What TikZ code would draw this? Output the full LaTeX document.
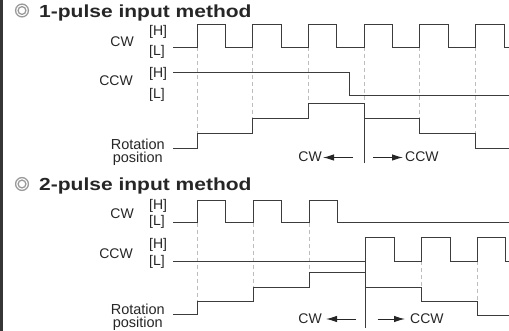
\documentclass[tikz,border=0pt]{standalone}
\usepackage{fontspec}
\setmainfont{Liberation Sans}
\usetikzlibrary{arrows.meta}
\definecolor{wave}{HTML}{3C3C3C}
\definecolor{guide}{HTML}{BDBDBD}
\definecolor{ink}{HTML}{262626}
\definecolor{sidebar}{HTML}{363636}
\definecolor{markgray}{HTML}{9A9A9A}
\begin{document}
\begin{tikzpicture}[x=1pt,y=-1pt,
  sig/.style={draw=wave,line width=0.9pt,line join=miter},
  guideline/.style={draw=guide,line width=0.8pt,dash pattern=on 4pt off 3pt},
  divider/.style={draw=wave,line width=0.9pt},
  dirarrow/.style={draw=ink,line width=1pt,-{Latex[length=11pt,width=6.5pt]}},
  lbl/.style={font=\fontsize{14}{16}\selectfont,inner sep=0pt,text=ink},
  rlbl/.style={font=\fontsize{14.5}{13}\selectfont,inner sep=0pt,text=ink,anchor=base,align=center},
  ttl/.style={inner sep=0pt,anchor=base west,text=ink},
  ring/.style={draw=markgray,line width=1.3pt}]
\useasboundingbox (0,0) rectangle (509,331);
% left sidebar
\fill[sidebar] (0,0) rectangle (3,331);

% ---------------- 1-pulse input method ----------------
\draw[ring] (22,10.5) circle (6.4);
\draw[ring] (22,10.5) circle (3.9);
\node[ttl] (t1) at (39,17.5) {\scalebox{1.2}[1]{\fontsize{17.5}{20}\selectfont\bfseries 1-pulse input method}};

\node[lbl,anchor=base east] (cw1) at (134,47) {CW};
\node[lbl,anchor=base west] (cw1h) at (149,36) {[H]};
\node[lbl,anchor=base west] (cw1l) at (149,56) {[L]};
\node[lbl,anchor=base east] (ccw1) at (133,86) {CCW};
\node[lbl,anchor=base west] (ccw1h) at (149,78) {[H]};
\node[lbl,anchor=base west] (ccw1l) at (149,98.5) {[L]};
% two-line label: the base anchor sits on the last line
\node[rlbl] (rot1) at (137.8,163) {Rotation\\position};

% timing guides
\draw[guideline] (197,47) -- (197,133.5);
\draw[guideline] (252.7,47) -- (252.7,118.5);
\draw[guideline] (308.3,47) -- (308.3,103.5);
\draw[guideline] (364,47) -- (364,103.5);
\draw[guideline] (419.7,47) -- (419.7,118.5);
\draw[guideline] (475.5,47) -- (475.5,133.5);

% CW pulse train
\draw[sig] (173,47) -- (197,47) -- (197,24) -- (225.5,24) -- (225.5,47)
  -- (252.7,47) -- (252.7,24) -- (281.2,24) -- (281.2,47)
  -- (308.3,47) -- (308.3,24) -- (336.8,24) -- (336.8,47)
  -- (364,47) -- (364,24) -- (392.5,24) -- (392.5,47)
  -- (419.7,47) -- (419.7,24) -- (448.2,24) -- (448.2,47)
  -- (475.5,47) -- (475.5,24) -- (504,24) -- (504,47) -- (509,47);
% CCW direction level
\draw[sig] (173,72) -- (349,72) -- (349,95) -- (509,95);
% rotation position
\draw[sig] (173,148) -- (197,148) -- (197,133.5) -- (252.7,133.5) -- (252.7,118.5)
  -- (308.3,118.5) -- (308.3,103.5) -- (364,103.5) -- (364,118.5)
  -- (419.7,118.5) -- (419.7,133.5) -- (475.5,133.5) -- (475.5,148) -- (509,148);
% direction change
\coordinate (d1top) at (364,103.5);
\coordinate (d1bot) at (364,163);
\draw[divider] (d1top) -- (d1bot);
\node[lbl,anchor=base east] (cwdir1) at (322,162) {CW};
\node[lbl,anchor=base west] (ccwdir1) at (405,162) {CCW};
\coordinate (a1l) at (353,157.5);
\coordinate (a1r) at (373,157.5);
\draw[dirarrow] (a1l) -- ([xshift=1pt]cwdir1.east |- a1l);
\draw[dirarrow] (a1r) -- ([xshift=-2pt]ccwdir1.west |- a1r);

% ---------------- 2-pulse input method ----------------
\draw[ring] (22,184) circle (6.4);
\draw[ring] (22,184) circle (3.9);
\node[ttl] (t2) at (39,190.5) {\scalebox{1.2}[1]{\fontsize{17.5}{20}\selectfont\bfseries 2-pulse input method}};

\node[lbl,anchor=base east] (cw2) at (134,219) {CW};
\node[lbl,anchor=base west] (cw2h) at (149,209.5) {[H]};
\node[lbl,anchor=base west] (cw2l) at (149,226) {[L]};
\node[lbl,anchor=base east] (ccw2) at (133,258.5) {CCW};
\node[lbl,anchor=base west] (ccw2h) at (149,248.5) {[H]};
\node[lbl,anchor=base west] (ccw2l) at (149,265.5) {[L]};
\node[rlbl] (rot2) at (137.8,327.5) {Rotation\\position};

% timing guides
\draw[guideline] (197,222.7) -- (197,301);
\draw[guideline] (253,222.7) -- (253,287);
\draw[guideline] (309,222.7) -- (309,272);
\draw[guideline] (421.5,261) -- (421.5,301);
\draw[guideline] (477,261) -- (477,315);

% CW pulse train
\draw[sig] (173,222.7) -- (197,222.7) -- (197,200) -- (225.5,200) -- (225.5,222.7)
  -- (253,222.7) -- (253,200) -- (281.5,200) -- (281.5,222.7)
  -- (309,222.7) -- (309,200) -- (337.5,200) -- (337.5,222.7) -- (509,222.7);
% CCW pulse train
\draw[sig] (173,261) -- (365.5,261) -- (365.5,237.7) -- (394,237.7) -- (394,261)
  -- (421.5,261) -- (421.5,237.7) -- (450,237.7) -- (450,261)
  -- (477,261) -- (477,237.7) -- (505,237.7) -- (505,261) -- (509,261);
% rotation position
\draw[sig] (173,314) -- (197,314) -- (197,301) -- (253,301) -- (253,287)
  -- (309,287) -- (309,272) -- (365.5,272) -- (365.5,287)
  -- (421.5,287) -- (421.5,301) -- (477,301) -- (477,315) -- (509,315);
% direction change
\coordinate (d2top) at (365.5,261);
\coordinate (d2bot) at (365.5,328);
\draw[divider] (d2top) -- (d2bot);
\node[lbl,anchor=base east] (cwdir2) at (322,323.5) {CW};
\node[lbl,anchor=base west] (ccwdir2) at (410,323.5) {CCW};
\coordinate (a2l) at (356,319);
\coordinate (a2r) at (377.7,319);
\draw[dirarrow] (a2l) -- ([xshift=4pt]cwdir2.east |- a2l);
\draw[dirarrow] (a2r) -- ([xshift=-5pt]ccwdir2.west |- a2r);
\end{tikzpicture}
\end{document}
